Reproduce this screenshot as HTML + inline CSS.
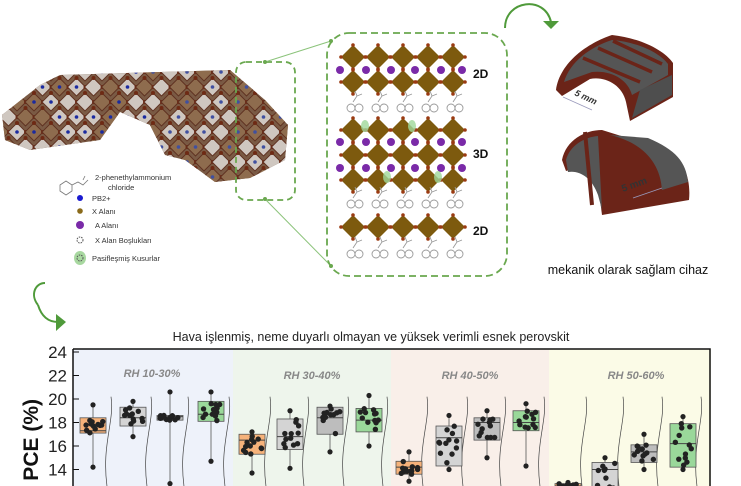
<!DOCTYPE html>
<html><head><meta charset="utf-8"><style>
html,body{margin:0;padding:0;background:#fff;width:741px;height:486px;overflow:hidden}
svg{display:block}
text{font-family:"Liberation Sans",sans-serif}
</style></head><body>
<svg id="s" width="741" height="486" viewBox="0 0 741 486" xmlns="http://www.w3.org/2000/svg">
<defs><clipPath id="cc"><path d="M2,115 L40,85 L60,75 L230,70 L265,100 L288,125 L285,160 L250,178 L215,182 L185,160 L165,155 L150,125 L120,112 L100,140 L30,150 L5,140 Z"/></clipPath></defs>
<path d="M2,115 L40,85 L60,75 L230,70 L265,100 L288,125 L285,160 L250,178 L215,182 L185,160 L165,155 L150,125 L120,112 L100,140 L30,150 L5,140 Z" fill="#7a5a44"/>
<g id="crys" clip-path="url(#cc)"></g>
<g font-size="7.5" fill="#333">
<text x="95" y="180">2-phenethylammonium</text><text x="108" y="190">chloride</text>
<path d="M60,185 l6,-4 l6,4 l0,6 l-6,4 l-6,-4z M72,185 l6,-3 l5,3 l5,-5 M83,180 l2,-4" fill="none" stroke="#777" stroke-width="0.8"/>
<circle cx="80" cy="198" r="3" fill="#1a1ad0"/><text x="92" y="201">PB2+</text>
<circle cx="80" cy="211" r="2.8" fill="#8a6a1a"/><text x="92" y="214">X Alanı</text>
<circle cx="80" cy="225" r="4" fill="#7a2aa8"/><text x="95" y="228">A Alanı</text>
<circle cx="80" cy="240" r="3" fill="none" stroke="#555" stroke-dasharray="1.5,1"/><text x="95" y="243">X Alan Boşlukları</text>
<ellipse cx="80" cy="258" rx="6" ry="7" fill="#a8d8a0"/><circle cx="80" cy="258" r="3" fill="none" stroke="#555" stroke-dasharray="1.5,1"/><text x="92" y="261">Pasifleşmiş Kusurlar</text>
</g>
<rect x="236" y="62" width="59" height="138" rx="10" fill="none" stroke="#6aa84f" stroke-width="1.8" stroke-dasharray="6,4"/>
<line x1="265" y1="62" x2="331" y2="41" stroke="#8bc37a" stroke-width="1"/>
<line x1="265" y1="199" x2="331" y2="266" stroke="#8bc37a" stroke-width="1"/>
<circle cx="265" cy="62" r="2" fill="#6aa84f"/><circle cx="265" cy="199" r="2" fill="#6aa84f"/>
<circle cx="331" cy="41" r="2" fill="#6aa84f"/><circle cx="331" cy="266" r="2" fill="#6aa84f"/>
<rect x="327" y="33" width="180" height="243" rx="22" fill="none" stroke="#6aa84f" stroke-width="1.8" stroke-dasharray="7,4"/>
<g id="pv"></g>
<g font-size="12" font-weight="bold" fill="#111">
<text x="473" y="78">2D</text><text x="473" y="158">3D</text><text x="473" y="235">2D</text></g>
<path d="M505,28 C505,0 545,-5 551,22" fill="none" stroke="#4f9a3a" stroke-width="2"/>
<path d="M543,21 L559,21 L551,29 Z" fill="#4f9a3a"/>
<path d="M38,305 C30,295 35,283 45,283" fill="none" stroke="#4f9a3a" stroke-width="2"/>
<path d="M38,305 C42,318 50,322 58,322" fill="none" stroke="#4f9a3a" stroke-width="2"/>
<path d="M56,314 L66,322 L56,331 Z" fill="#4f9a3a"/>
<path d="M556,90 C560,62 588,43 612,35 C640,38 664,50 673,63 L673,97 L630,121 L626,102 C622,84 604,76 590,79 L562,96 Z" fill="#6b2418"/>
<path d="M564,82 C570,62 590,47 612,40 C638,42 660,53 668,64 L668,75 L632,95 C628,80 612,70 592,72 Z" fill="#555"/>
<path d="M583,58 L640,82 M598,48 L652,72 M613,41 L662,64" stroke="#6b2418" stroke-width="3.5"/>
<path d="M640,90 L672,75 L672,95 L632,118 Z" fill="#4e4e4e"/>
<line x1="563" y1="97" x2="592" y2="110" stroke="#99b" stroke-width="0.8"/>
<text x="574" y="95" font-size="9" font-weight="bold" font-style="italic" fill="#333" transform="rotate(25 574 95)">5 mm</text>
<path d="M562,160 C566,140 585,130 602,130 L666,150 C685,160 691,180 689,200 L602,215 L599,192 C592,174 578,167 566,171 Z" fill="#6b2418"/>
<path d="M566,160 C570,145 585,137 598,136 L602,210 L598,195 C592,178 580,170 568,172 Z" fill="#555"/>
<path d="M610,135 C640,142 660,160 662,190 L688,182 C686,162 676,150 648,138 Z" fill="#555"/>
<path d="M585,132 L592,205" stroke="#6b2418" stroke-width="4"/>
<line x1="633" y1="198" x2="662" y2="188" stroke="#99b" stroke-width="0.8"/>
<text x="623" y="192" font-size="10" font-weight="bold" fill="#333" transform="rotate(-20 623 192)">5 mm</text>
<text x="628" y="274" font-size="12.5" text-anchor="middle" fill="#111">mekanik olarak sağlam cihaz</text>
<text x="371" y="341" font-size="12.5" text-anchor="middle" fill="#222">Hava işlenmiş, neme duyarlı olmayan ve yüksek verimli esnek perovskit</text>
<rect x="73" y="349" width="160" height="137" fill="#eef2fa"/>
<rect x="233" y="349" width="158" height="137" fill="#eef5ec"/>
<rect x="391" y="349" width="158" height="137" fill="#f9efe9"/>
<rect x="549" y="349" width="162" height="137" fill="#fbfbe7"/>
<path d="M73,349 L710,349 L710,486 M73,349 L73,486" fill="none" stroke="#111" stroke-width="1.5"/>
<g font-size="17" fill="#222" text-anchor="end" id="yt"></g>
<text x="38" y="399" font-size="21" font-weight="bold" fill="#111" text-anchor="end" transform="rotate(-90 38 399)">PCE (%)</text>
<g font-size="11" font-style="italic" font-weight="bold" fill="#888" text-anchor="middle">
<text x="152" y="377">RH 10-30%</text><text x="312" y="379">RH 30-40%</text><text x="470" y="379">RH 40-50%</text><text x="636" y="379">RH 50-60%</text></g>
<g id="bx"></g>
</svg>
<script>
var NS="http://www.w3.org/2000/svg";
function el(p,t,a){var e=document.createElementNS(NS,t);for(var k in a)e.setAttribute(k,a[k]);document.getElementById(p).appendChild(e);return e;}
function R(n){var x=Math.sin(n*12.9898+78.233)*43758.5453;return x-Math.floor(x);}
var xs=[353,378,403,428,453];
function drow(y){xs.forEach(function(x){el("pv","path",{d:"M"+x+","+(y-12)+" L"+(x+12)+","+y+" L"+x+","+(y+12)+" L"+(x-12)+","+y+"Z",fill:"#7d5a0e"});
[[0,-12],[12,0],[0,12],[-12,0]].forEach(function(o){el("pv","circle",{cx:x+o[0],cy:y+o[1],r:1.8,fill:"#9a3a12"})});});}
function dots(y){[340,366,391,415,441,462].forEach(function(x){el("pv","circle",{cx:x,cy:y,r:4,fill:"#7a2aa8"})});}
function org(y){xs.forEach(function(x){el("pv","path",{d:"M"+(x-6)+","+(y+4)+" a4,4 0 1,0 8,0 a4,4 0 1,0 -8,0 M"+(x+2)+","+(y+4)+" a4,4 0 1,0 8,0 a4,4 0 1,0 -8,0 M"+x+","+(y-2)+" l4,-6 l-2,-5 M"+(x+4)+","+(y-8)+" l5,-2",fill:"none",stroke:"#999","stroke-width":0.9})});}
drow(57);drow(82);dots(70);org(104);
drow(130);drow(155);drow(180);dots(142);dots(168);org(200);
drow(227);org(250);
[[365,126],[412,126],[387,177],[438,177]].forEach(function(p){el("pv","ellipse",{cx:p[0],cy:p[1],rx:4,ry:6,fill:"#9fd89a",opacity:0.8})});
var n=0;
for(var y=72;y<195;y+=15){for(var x=0;x<300;x+=17){n++;var xx=x+((Math.round((y-72)/15))%2)*8.5;
el("crys","path",{d:"M"+xx+","+(y-9)+" l9,9 l-9,9 l-9,-9z",fill:R(n)>0.5?"#cfc7c0":"#8e6c4e",stroke:"#5e3020","stroke-width":0.9});
el("crys","circle",{cx:xx,cy:y-9,r:2,fill:"#6e2a14"});el("crys","circle",{cx:xx+9,cy:y,r:2,fill:"#6e2a14"});
if(R(n+500)>0.55)el("crys","circle",{cx:xx,cy:y,r:1.8,fill:xx<150?"#1a2aa0":"#4050a0"});}}
function Y(v){return 352+(24-v)*11.75;}
[24,22,20,18,16,14,12].forEach(function(v){var t=el("yt","text",{x:67,y:Y(v)+6});t.textContent=v;el("bx","line",{x1:73,y1:Y(v),x2:79,y2:Y(v),stroke:"#111"});});
var O="#f6b27a",G="#d4d4d4",Gr="#9ad89a",D="#bdbdbd";
var B=[[80,18.4,17.1,17.3,O,19.5,14.2],[120,19.3,17.7,18.4,G,19.8,16.8],[157,18.6,18.2,18.5,D,20.6,12.8],[198,19.8,18.1,18.7,Gr,20.6,14.7],
[239,17,15.3,16.5,O,17.2,13.7],[277,18.3,15.7,16.8,G,19,14.1],[317,19.3,17,18.4,D,19.4,15.5],[356,19.2,17.2,18.2,Gr,20.3,16],
[396,14.7,13.6,14.2,O,15.5,13],[436,17.7,14.3,16.7,G,18.6,14],[474,18.4,16.5,18,D,19,15],[513,19,17.3,18,Gr,19.6,14.3],
[555,12.8,12.3,12.6,O,12.9,12],[592,14.6,11.5,14,G,15,11],[631,16.1,14.6,15.5,D,17,14],[670,17.9,14.2,16.2,Gr,18.5,14]];
B.forEach(function(b,i){var w=26;
el("bx","path",{d:"M"+(b[0]+w+5)+","+Y(20.2)+" C"+(b[0]+w+9)+","+Y(18)+" "+(b[0]+w-6)+","+Y(16)+" "+(b[0]+w+2)+","+Y(12),fill:"none",stroke:"#444","stroke-width":0.7});
el("bx","line",{x1:b[0]+w/2,x2:b[0]+w/2,y1:Y(b[5]),y2:Y(b[6]),stroke:"#555","stroke-width":0.8});
el("bx","rect",{x:b[0],y:Y(b[1]),width:w,height:Y(b[2])-Y(b[1]),fill:b[4],stroke:"#555","stroke-width":0.8});
el("bx","line",{x1:b[0],x2:b[0]+w,y1:Y(b[3]),y2:Y(b[3]),stroke:"#444"});
for(var k=0;k<12;k++){var v=b[2]+R(i*31+k)*(b[1]-b[2]);el("bx","circle",{cx:b[0]+3+R(i*57+k*3)*20,cy:Y(v),r:2.7,fill:"#222"});}
el("bx","circle",{cx:b[0]+w/2,cy:Y(b[5]),r:2.6,fill:"#222"});el("bx","circle",{cx:b[0]+w/2,cy:Y(b[6]),r:2.6,fill:"#222"});});
</script>
</body></html>
